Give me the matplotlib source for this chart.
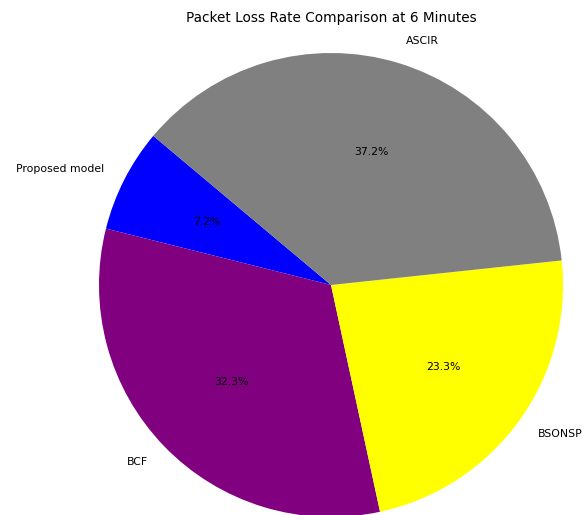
import matplotlib
matplotlib.use("Agg")
import matplotlib.pyplot as plt

# Packet loss share per method at the 6-minute mark (percent)
methods = ["Proposed model", "BCF", "BSONSP", "ASCIR"]
loss_share = [7.2, 32.3, 23.3, 37.2]
colors = ["blue", "purple", "yellow", "gray"]
title = "Packet Loss Rate Comparison at 6 Minutes"

W, H = 585, 515
fig = plt.figure(figsize=(W / 100, H / 100), dpi=100)

# pie centre and radius in pixels
cx, cy, r = 331, 285, 232
ax = fig.add_axes([(cx - r) / W, (H - cy - r) / H, 2 * r / W, 2 * r / H])

wedges, texts, autotexts = ax.pie(
    loss_share,
    labels=methods,
    colors=colors,
    autopct="%1.1f%%",
    startangle=140,
    textprops={"fontsize": 7.8},
)
ax.set_xlim(-1, 1)
ax.set_ylim(-1, 1)
ax.set_aspect("auto")

fig.text(cx / W, 1 - 18 / H, title, ha="center", va="center", fontsize=9.8)

fig.savefig("out.png", dpi=100)
